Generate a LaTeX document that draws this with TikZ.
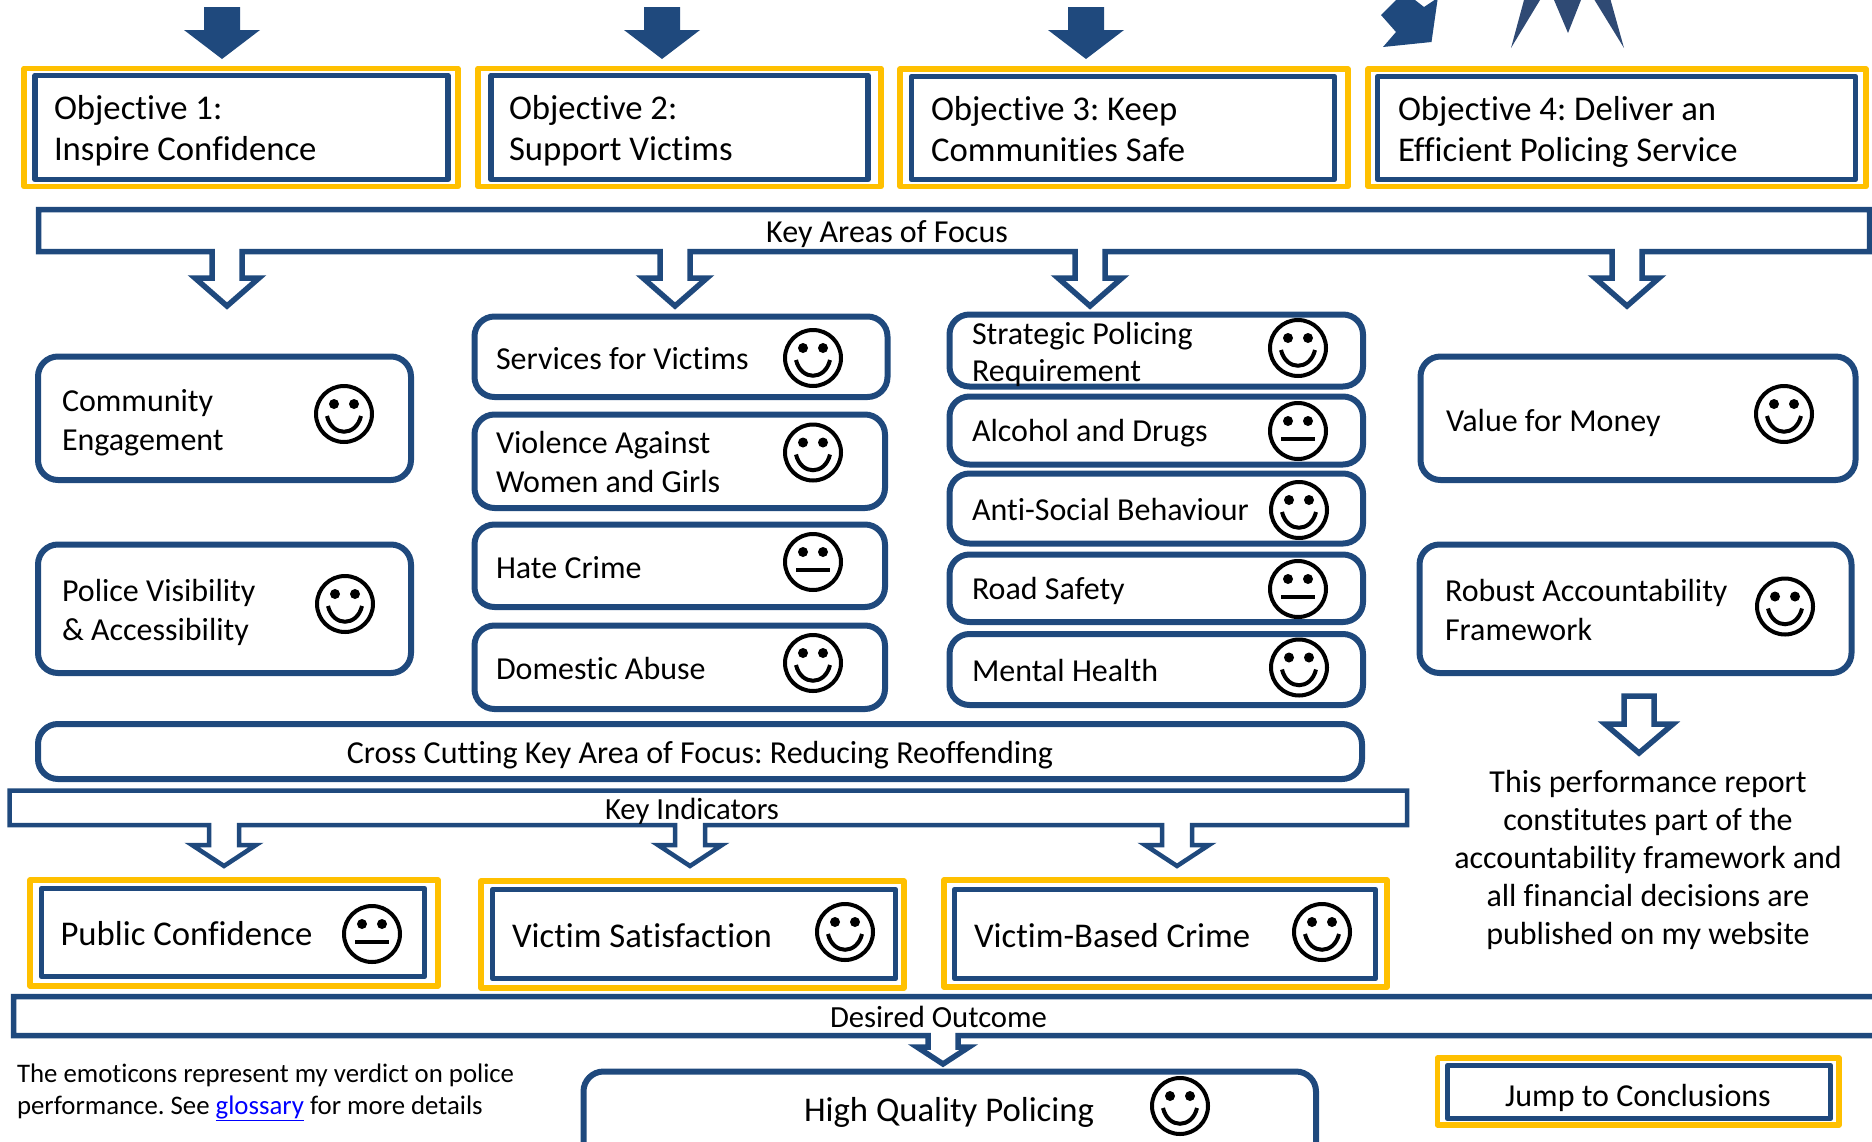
\documentclass[tikz,border=0pt]{standalone}
\usepackage{fontspec}
\setmainfont{Carlito}[Ligatures=NoCommon]
\frenchspacing
\definecolor{navy}{HTML}{1F497D}
\definecolor{gold}{HTML}{FFC000}
\definecolor{spike}{HTML}{2F4A74}
\newcommand\dropdown[6]{-- (#1+#5,#2) -- (#1+#5,#3) -- (#1+#6,#3) -- (#1,#4) -- (#1-#6,#3) -- (#1-#5,#3) -- (#1-#5,#2)}
\newcommand\faceshell[2]{%
  \draw[faceline] (#1,#2) circle[radius=28pt];
  \fill (#1-10,#2-10) circle[radius=5pt] (#1+10,#2-10) circle[radius=5pt];}
\newcommand\happy[2]{\faceshell{#1}{#2}\draw[faceline] (#1-17,#2+2) .. controls (#1-12,#2+23) and (#1+12,#2+23) .. (#1+17,#2+2);}
\newcommand\neutral[2]{\faceshell{#1}{#2}\draw[faceline] (#1-17,#2+8) -- (#1+17,#2+8);}
\newcommand\solidarrow[1]{\fill[navy] (#1-18,7) -- (#1+18,7) -- (#1+18,30) -- (#1+38,30) -- (#1,59) -- (#1-38,30) -- (#1-18,30) -- cycle;}
\tikzset{
  x=1pt,y=-1pt,
  faceline/.style={black,line width=4pt},
  goldbox/.style={draw=gold,line width=5.5pt,line join=round},
  bluebox/.style={draw=navy,line width=5.5pt,line join=round},
  roundbox/.style={draw=navy,line width=6pt,rounded corners=20pt},
  callout/.style={draw=navy,line width=5.5pt,fill=white},
  txt/.style={anchor=base west,inner sep=0pt,outer sep=0pt,align=left,font=\fontsize{32}{38.5}\selectfont},
  bigtxt/.style={txt,font=\fontsize{34.7}{40.5}\selectfont},
  midtxt/.style={txt,anchor=base,align=center},
  thintxt/.style={midtxt,font=\fontsize{30.7}{38}\selectfont},
  smalltxt/.style={txt,font=\fontsize{26.8}{32}\selectfont},
}
\begin{document}
\begin{tikzpicture}
\useasboundingbox (0,0) rectangle (1872,1141);
\clip (0,0) rectangle (1872,1141);

% top arrows
\solidarrow{222}
\solidarrow{662}
\solidarrow{1086}
\fill[navy] (1396,0) -- (1381,15) -- (1396,32) -- (1383,47) -- (1431.5,42) -- (1437.5,0) -- (1434.5,0) -- (1424,7) -- (1415,0) -- cycle;
\fill[spike] (1511,48) -- (1524,0) -- (1540,0) -- cycle;
\fill[spike] (1568,33) -- (1554,0) -- (1581,0) -- cycle;
\fill[spike] (1624,48) -- (1594.5,0) -- (1610.6,0) -- cycle;

% objectives
\draw[goldbox] (24,68.5) rectangle (458,186.5);
\draw[bluebox] (35,75.5) rectangle (448,179.5);
\draw[goldbox] (478,68.5) rectangle (881,186.5);
\draw[bluebox] (491,75.5) rectangle (868,179.5);
\draw[goldbox] (900,69) rectangle (1348,186.5);
\draw[bluebox] (911.5,76.5) rectangle (1334.5,179.5);
\draw[goldbox] (1368,69) rectangle (1866,186.5);
\draw[bluebox] (1377.5,76.5) rectangle (1855.5,179.5);
\node[bigtxt] (obj1) at (54,160) {Objective 1:\\Inspire Confidence};
\node[bigtxt] (obj2) at (509,160) {Objective 2:\\Support Victims};
\node[bigtxt] (obj3) at (931,161) {Objective 3: Keep\\Communities Safe};
\node[bigtxt] (obj4) at (1398,161) {Objective 4: Deliver an\\Efficient Policing Service};

% key areas
\draw[callout] (38.5,209.5) -- (1869.5,209.5) -- (1869.5,251.5)
  \dropdown{1627}{251.5}{278}{306}{15}{32}
  \dropdown{1090}{251.5}{278}{306}{15}{32}
  \dropdown{675}{251.5}{278}{306}{15}{32}
  \dropdown{227}{251.5}{278}{306}{15}{32}
  -- (38.5,251.5) -- cycle;
\node[midtxt] (areas) at (887,242) {Key Areas of Focus};

% rounded boxes, column 1
\draw[roundbox] (38,356.5) rectangle (411,480);
\node[txt] (community) at (62,450) {Community\\Engagement};
\happy{344}{414}
\draw[roundbox] (38,544.5) rectangle (411,673);
\node[txt] (police) at (62,640) {Police Visibility\\\& Accessibility};
\happy{345}{604}

% column 2
\draw[roundbox] (474.5,316.5) rectangle (887.5,397);
\node[txt] (services) at (496,369) {Services for Victims};
\happy{813}{358}
\draw[roundbox] (474.5,414.5) rectangle (885,508);
\node[txt] (violence) at (496,492) {Violence Against\\Women and Girls};
\happy{813}{452.5}
\draw[roundbox] (474.5,524.5) rectangle (885,607);
\node[txt] (hate) at (496,578) {Hate Crime};
\neutral{813}{562}
\draw[roundbox] (474.5,625.5) rectangle (885,709);
\node[txt] (domestic) at (496,679) {Domestic Abuse};
\happy{813}{663}

% column 3
\draw[roundbox] (949.5,314.5) rectangle (1363,386.5);
\node[txt,font=\fontsize{32}{37}\selectfont] (strategic) at (972,381) {Strategic Policing\\Requirement};
\happy{1298}{348}
\draw[roundbox] (949.5,396.5) rectangle (1363,464.5);
\node[txt] (alcohol) at (972,441) {Alcohol and Drugs};
\neutral{1298}{431}
\draw[roundbox] (949.5,473.5) rectangle (1363,543.5);
\node[txt] (antisocial) at (972,520) {Anti-Social Behaviour};
\happy{1299}{510}
\draw[roundbox] (949.5,554.5) rectangle (1363,622);
\node[txt] (road) at (972,599) {Road Safety};
\neutral{1298}{589}
\draw[roundbox] (949.5,634) rectangle (1363,705);
\node[txt] (mental) at (972,681) {Mental Health};
\happy{1299}{667.5}

% column 4
\draw[roundbox] (1420.5,356.5) rectangle (1855.5,480);
\node[txt] (value) at (1446,431) {Value for Money};
\happy{1784}{414}
\draw[roundbox] (1419.5,544.5) rectangle (1851.5,673);
\node[txt] (robust) at (1445,640) {Robust Accountability\\Framework};
\happy{1785}{606.5}

% arrow under Robust
\draw[callout] (1624,696) -- (1654,696) -- (1654,724) -- (1673,724) -- (1639,753) -- (1605,724) -- (1624,724) -- cycle;
\node[txt,anchor=base,align=center,font=\fontsize{32}{38}\selectfont] (report) at (1648,944) {This performance report\\constitutes part of the\\accountability framework and\\all financial decisions are\\published on my website};

% cross cutting
\draw[roundbox] (38,724) rectangle (1362,779);
\node[midtxt] (cross) at (700,763) {Cross Cutting Key Area of Focus: Reducing Reoffending};

% key indicators
\draw[callout,line width=4.5pt] (9.5,790.5) -- (1407,790.5) -- (1407,825)
  \dropdown{1177}{825}{845}{866}{15}{32}
  \dropdown{690}{825}{845}{866}{15}{32}
  \dropdown{224}{825}{845}{866}{15}{32}
  -- (9.5,825) -- cycle;
\node[thintxt] (indicators) at (692,819) {Key Indicators};

\draw[goldbox] (30,880) rectangle (438,986);
\draw[bluebox] (41.5,888.5) rectangle (424.5,976.5);
\node[bigtxt] (public) at (60.5,945) {Public Confidence};
\neutral{372}{934}
\draw[goldbox] (481,881) rectangle (904,988);
\draw[bluebox] (492.5,889.5) rectangle (895.5,978.5);
\node[bigtxt] (victimsat) at (512,947) {Victim Satisfaction};
\happy{845}{932}
\draw[goldbox] (944,880) rectangle (1387,987);
\draw[bluebox] (954.5,889.5) rectangle (1375.5,978.5);
\node[bigtxt] (victimcrime) at (974,947) {Victim-Based Crime};
\happy{1322}{932}

% desired outcome
\draw[callout] (13.5,996.5) -- (1880,996.5) -- (1880,1035.5)
  \dropdown{943}{1035.5}{1047}{1064}{15}{26}
  -- (13.5,1035.5) -- cycle;
\node[thintxt] (desired) at (938.5,1027) {Desired Outcome};

\node[smalltxt] (note) at (17,1114) {The emoticons represent my verdict on police\\performance. See \textcolor{blue}{\underline{glossary}} for more details};

\draw[roundbox] (583.5,1071.5) rectangle (1316,1200);
\node[txt,anchor=base,align=center,font=\fontsize{34.7}{41}\selectfont] (high) at (949,1121) {High Quality Policing};
\happy{1180}{1106}

\draw[goldbox] (1437.5,1058) rectangle (1839,1125);
\draw[bluebox] (1447.5,1065.5) rectangle (1830.5,1118.5);
\node[midtxt] (jump) at (1638,1106) {Jump to Conclusions};
\end{tikzpicture}
\end{document}
